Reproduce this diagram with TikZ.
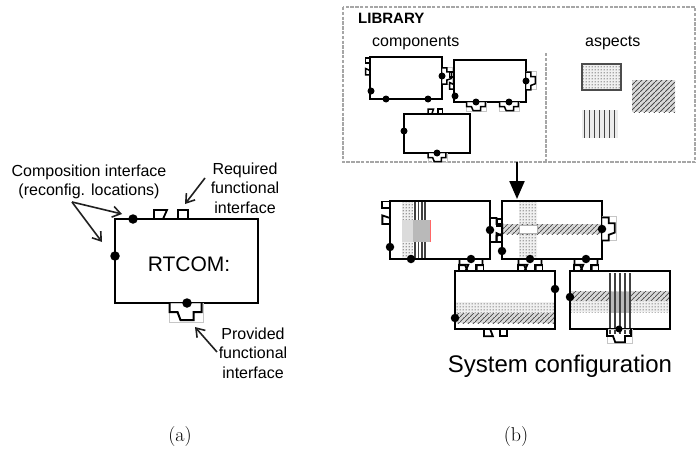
\documentclass[tikz,border=0pt]{standalone}
\usepackage{fontspec}
\newfontfamily\arial{Liberation Sans}
\usetikzlibrary{arrows.meta,patterns.meta}
\tikzdeclarepattern{name=mydots, type=uncolored, bounding box={(0pt,0pt) and (3pt,3pt)}, tile size={(3pt,3pt)}, code={\fill (1.5pt,1.5pt) circle (0.8pt);}}
\tikzdeclarepattern{name=myhatch, type=uncolored, bounding box={(0pt,0pt) and (5pt,5pt)}, tile size={(5pt,5pt)}, code={\draw[line width=0.9pt] (-1pt,-1pt)--(6pt,6pt);}}
\tikzset{
  plug/.pic={\draw[pic actions] (-16,0)--(-16,9)--(-8,9)--(-5,17)--(8,17)--(8,9)--(16,9)--(16,0);},
  plugo/.pic={\draw[gray!45,line width=0.7pt] (-16,0) rectangle (18,19);
              \draw[pic actions] (-16,0)--(-16,9)--(-8,9)--(-5,17)--(8,17)--(8,9)--(16,9)--(16,0);},
  notches/.pic={\draw[pic actions] (0,0)--(0,-9)--(13,-9)--(9,0); \draw[pic actions] (24,0)--(24,-9)--(34,-9)--(34,0);},
  boxa/.style={line width=2.5pt},
  boxl/.style={line width=2pt},
  dotbig/.style={circle,fill=black,inner sep=0pt,minimum size=9.5pt},
  dotmid/.style={circle,fill=black,inner sep=0pt,minimum size=8.5pt},
  dotsm/.style={circle,fill=black,inner sep=0pt,minimum size=7pt},
  lbl/.style={font=\arial\fontsize{16}{19.5}\selectfont,align=center,inner sep=0pt},
  pointer/.style={draw=gray!25!black,line width=1.6pt,-{Straight Barb[length=8pt,width=11pt]}},
  dotfill/.style={pattern=mydots,pattern color=gray!70!black},
  hatchfill/.style={pattern=myhatch,pattern color=gray!60!black},
  libframe/.style={draw=gray!70,line width=2.4pt,dash pattern=on 3.5pt off 1.3pt},
}
\begin{document}
\begin{tikzpicture}[x=1pt,y=-1pt,line join=miter]
\useasboundingbox (0,0) rectangle (696,452);
% ---------------- panel (a) ----------------
\draw[boxa] (115,219) rectangle (258,303);
\node[font=\arial\fontsize{21}{24}\selectfont,inner sep=0pt] (rtcom) at (189,264) {RTCOM:};
\pic[line width=1.8pt] at (154,219) {notches};
\pic[line width=2pt] at (185.5,303) {plugo};
\node[dotbig] (a1) at (133,219) {};
\node[dotbig] (a2) at (115,256) {};
\node[dotbig] (a3) at (187,303) {};
\node[lbl] (comp) at (89,182) {Composition interface\\(reconfig. locations)};
\node[lbl] (req) at (245,188) {Required\\functional\\interface};
\node[lbl] (prov) at (253,353) {Provided\\functional\\interface};
\coordinate (cs) at (72,202);
\coordinate (ct1) at (122,214);
\coordinate (ct2) at (102,242);
\coordinate (rs) at (205,178);
\coordinate (rt) at (185,204);
\coordinate (ps) at (217,352);
\coordinate (pt) at (195,327);
\draw[pointer] (cs) -- (ct1);
\draw[pointer] (cs) -- (ct2);
\draw[pointer] (rs) -- (rt);
\draw[pointer] (ps) -- (pt);
\node[font=\fontsize{20}{24}\selectfont] (la) at (180,437) {(a)};
% ---------------- panel (b): library ----------------
\draw[libframe] (343,7) rectangle (695,162);
\draw[libframe] (546,53) -- (546,162);
\node[font=\arial\bfseries\fontsize{15}{18}\selectfont,anchor=west,inner sep=0pt] (lib) at (358,18) {LIBRARY};
\node[font=\arial\fontsize{16}{19}\selectfont,anchor=west,inner sep=0pt] (cmp) at (372,43) {components};
\node[font=\arial\fontsize{16}{19}\selectfont,anchor=west,inner sep=0pt] (asp) at (585,43) {aspects};
% aspects
\fill[gray!12] (582,64) rectangle (621,90);
\draw[gray!60!black,line width=1.3pt,dotfill] (582,64) rectangle (621,90);
\fill[gray!30] (632,80) rectangle (675,112);
\fill[hatchfill] (632,80) rectangle (675,112);
\fill[gray!15] (582,110) rectangle (618,138);
\foreach \xx in {584.5,589.5,...,616} {\draw[gray!55!black,line width=1.8pt] (\xx,110) -- (\xx,138);}
% component L1
\draw[boxl] (370,57) rectangle (442,99);
\pic[line width=1.5pt,rotate=90,scale=0.5] at (370,75) {notches};
\pic[line width=1.5pt,rotate=90,xscale=0.5,yscale=0.55] at (442,76) {plugo};
\node[dotsm] (l11) at (371,91) {};
\node[dotsm] (l12) at (386,99) {};
\node[dotsm] (l13) at (428,99) {};
\node[dotsm] (l14) at (442,76) {};
% component L2
\draw[boxl] (454,60) rectangle (526,102);
\pic[line width=1.5pt,rotate=90,scale=0.5] at (454,89) {notches};
\pic[line width=1.5pt,rotate=90,xscale=0.55,yscale=0.55] at (526,81) {plugo};
\pic[line width=1.5pt,xscale=0.58,yscale=0.5] at (476,102) {plugo};
\pic[line width=1.5pt,xscale=0.58,yscale=0.5] at (509,102) {plugo};
\node[dotsm] (l21) at (455,96) {};
\node[dotsm] (l22) at (526,81) {};
\node[dotsm] (l23) at (476,102) {};
\node[dotsm] (l24) at (509,102) {};
% component L3
\draw[boxl] (404,114) rectangle (470,153);
\pic[line width=1.5pt,xscale=0.42,yscale=0.55] at (428,114) {notches};
\pic[line width=1.5pt,xscale=0.55,yscale=0.5] at (437,153) {plugo};
\node[dotsm] (l31) at (404,131) {};
\node[dotsm] (l32) at (437,153) {};
% arrow library -> configuration
\coordinate (arS) at (517,162);
\coordinate (arE) at (517,199);
\draw[line width=2.2pt,-{Triangle[length=18pt,width=15pt]}] (arS) -- (arE);
% ---------------- system configuration ----------------
% A
\fill[gray!12] (402,201) rectangle (413,259);
\fill[dotfill] (402,201) rectangle (413,259);
\foreach \xx in {415,418.5,422,425} {\draw[gray!50!black,line width=1.1pt] (\xx,201) -- (\xx,259);}
\fill[gray!28] (402,220) rectangle (413,242);
\fill[gray!55] (413,220) rectangle (430,242);
\draw[red!60,line width=0.8pt] (430,220) -- (430,242);
\draw[boxa] (390,201) rectangle (490,259);
\pic[line width=1.8pt,rotate=90,xscale=0.66,yscale=0.85] at (390,224) {notches};
% B
\fill[gray!12] (519,201) rectangle (537,259);
\fill[dotfill] (519,201) rectangle (537,259);
\fill[gray!30] (502,224) rectangle (602,234);
\fill[hatchfill] (502,224) rectangle (602,234);
\draw[gray!60,fill=white,line width=0.9pt] (519,225) rectangle (537,233);
\draw[boxa] (502,201) rectangle (602,259);
\pic[line width=1.8pt,rotate=90,xscale=0.75,yscale=0.72] at (490,230) {plug};
\pic[line width=1.8pt,rotate=90,xscale=0.68,yscale=0.6] at (502,242) {notches};
\pic[line width=1.8pt,rotate=90,xscale=0.72,yscale=0.75] at (602,229) {plugo};
% C
\fill[gray!12] (455,302) rectangle (555,313);
\fill[dotfill] (455,302) rectangle (555,313);
\fill[gray!30] (455,313) rectangle (555,323);
\fill[hatchfill] (455,313) rectangle (555,323);
\draw[boxa] (455,271) rectangle (555,329);
\pic[line width=1.8pt,xscale=0.68,yscale=-0.8] at (484,329) {notches};
% D
\fill[gray!30] (570,291) rectangle (670,301);
\fill[hatchfill] (570,291) rectangle (670,301);
\fill[gray!12] (570,301) rectangle (670,312);
\fill[dotfill] (570,301) rectangle (670,312);
\fill[gray!55] (610,292) rectangle (631,313);
\foreach \xx in {610,615,620,625,630} {\draw[gray!50!black,line width=1.1pt] (\xx,273) -- (\xx,334);}
\draw[boxa] (570,271) rectangle (670,329);
\pic[line width=1.8pt,xscale=0.75,yscale=0.78] at (619,329) {plugo};
% mates between rows
\pic[line width=1.8pt,xscale=0.72,yscale=0.7] at (471,259) {plug};
\pic[line width=1.8pt,xscale=0.72,yscale=0.7] at (459,271) {notches};
\pic[line width=1.8pt,xscale=0.72,yscale=0.7] at (530,259) {plug};
\pic[line width=1.8pt,xscale=0.72,yscale=0.7] at (518,271) {notches};
\pic[line width=1.8pt,xscale=0.72,yscale=0.7] at (586,259) {plug};
\pic[line width=1.8pt,xscale=0.72,yscale=0.7] at (574,271) {notches};
% dots
\node[dotmid] (sa1) at (390,247) {};
\node[dotmid] (sa2) at (411,259) {};
\node[dotmid] (sa3) at (490,230) {};
\node[dotmid] (sa4) at (471,259) {};
\node[dotmid] (sb1) at (502,251) {};
\node[dotmid] (sb2) at (602,229) {};
\node[dotmid] (sb3) at (530,259) {};
\node[dotmid] (sb4) at (586,259) {};
\node[dotmid] (sc1) at (555,289) {};
\node[dotmid] (sc2) at (455,318) {};
\node[dotmid] (sd1) at (570,297) {};
\node[dotsm] (sd2) at (619,329) {};
\node[font=\arial\fontsize{24}{28}\selectfont] (sys) at (560,366) {System configuration};
\node[font=\fontsize{20}{24}\selectfont] (lb) at (516,437) {(b)};
\end{tikzpicture}
\end{document}
